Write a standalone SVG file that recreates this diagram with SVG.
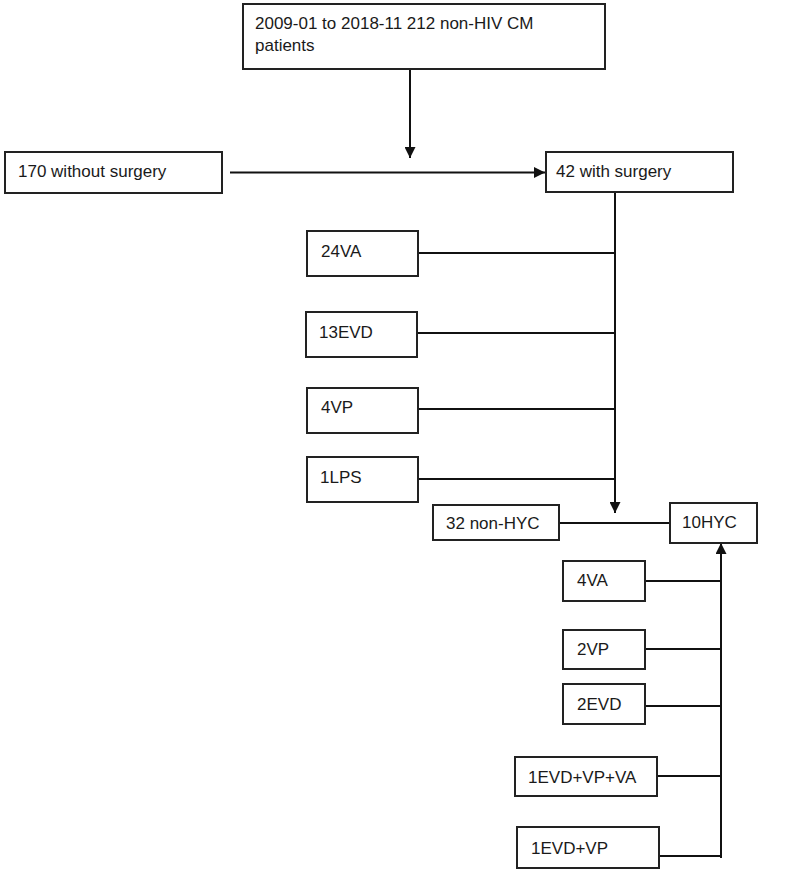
<svg xmlns="http://www.w3.org/2000/svg" width="800" height="875" viewBox="0 0 800 875">
<style>
.b{fill:#fff;stroke:#222;stroke-width:2}
.t{font-family:"Liberation Sans",Arial,sans-serif;font-size:17px;fill:#1a1a1a}
.c{fill:none;stroke:#111;stroke-width:2}
</style>
<defs>
<marker id="ah" viewBox="0 0 10 10" refX="10" refY="5" markerWidth="6" markerHeight="5.5" orient="auto" markerUnits="strokeWidth">
<path d="M0,0 L10,5 L0,10 Z" fill="#111"/>
</marker>
</defs>
<rect width="800" height="875" fill="#fff"/>
<g id="connectors">
<line class="c" x1="410" y1="69" x2="410" y2="158" marker-end="url(#ah)"/>
<line class="c" x1="230" y1="172.5" x2="545" y2="172.5" marker-end="url(#ah)"/>
<line class="c" x1="615" y1="192" x2="615" y2="513" marker-end="url(#ah)"/>
<line class="c" x1="418" y1="253" x2="615" y2="253"/>
<line class="c" x1="417" y1="333" x2="615" y2="333"/>
<line class="c" x1="418" y1="409" x2="615" y2="409"/>
<line class="c" x1="418" y1="479" x2="615" y2="479"/>
<line class="c" x1="559" y1="523" x2="670" y2="523"/>
<line class="c" x1="721" y1="858" x2="721" y2="543" marker-end="url(#ah)"/>
<line class="c" x1="645" y1="581" x2="721" y2="581"/>
<line class="c" x1="645" y1="649" x2="721" y2="649"/>
<line class="c" x1="645" y1="706" x2="721" y2="706"/>
<line class="c" x1="657" y1="776" x2="721" y2="776"/>
<line class="c" x1="659" y1="856" x2="721" y2="856"/>
</g>
<g id="n-top"><rect class="b" x="243" y="4" width="362" height="65"/><text class="t" x="255" y="29">2009-01 to 2018-11 212 non-HIV CM</text><text class="t" x="255" y="51">patients</text></g>
<g id="n-without"><rect class="b" x="5" y="152" width="217" height="41"/><text class="t" x="18" y="177">170 without surgery</text></g>
<g id="n-with"><rect class="b" x="546" y="152" width="187" height="40"/><text class="t" x="556" y="177">42 with surgery</text></g>
<g id="n-24va"><rect class="b" x="307" y="231" width="111" height="45"/><text class="t" x="321" y="257">24VA</text></g>
<g id="n-13evd"><rect class="b" x="306" y="312" width="111" height="45"/><text class="t" x="319" y="338">13EVD</text></g>
<g id="n-4vp"><rect class="b" x="307" y="388" width="111" height="45"/><text class="t" x="321" y="413">4VP</text></g>
<g id="n-1lps"><rect class="b" x="307" y="457" width="111" height="45"/><text class="t" x="320" y="483">1LPS</text></g>
<g id="n-nonhyc"><rect class="b" x="433" y="505" width="126" height="35"/><text class="t" x="446" y="529">32 non-HYC</text></g>
<g id="n-hyc"><rect class="b" x="670" y="503" width="87" height="40"/><text class="t" x="682" y="528">10HYC</text></g>
<g id="n-4va"><rect class="b" x="563" y="561" width="82" height="40"/><text class="t" x="577" y="586">4VA</text></g>
<g id="n-2vp"><rect class="b" x="563" y="630" width="82" height="39"/><text class="t" x="577" y="655">2VP</text></g>
<g id="n-2evd"><rect class="b" x="563" y="684" width="82" height="40"/><text class="t" x="577" y="710">2EVD</text></g>
<g id="n-3"><rect class="b" x="515" y="757" width="142" height="39"/><text class="t" x="528" y="783">1EVD+VP+VA</text></g>
<g id="n-2"><rect class="b" x="517" y="827" width="142" height="41"/><text class="t" x="531" y="854">1EVD+VP</text></g>
</svg>
